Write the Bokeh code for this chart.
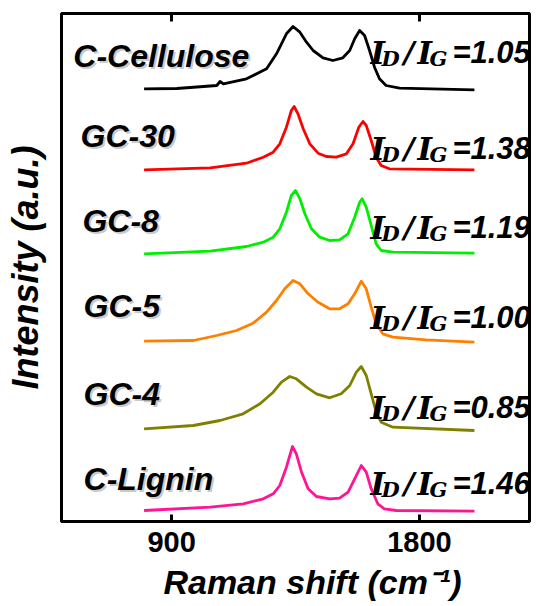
from bokeh.plotting import figure
from bokeh.models import Label, Range1d, FixedTicker, LinearAxis
from bokeh.embed import file_html
from bokeh.resources import INLINE

# ---------------- data ----------------
x_ticks = [900, 1800]

cell_x = [800, 919, 1064, 1076, 1088, 1172, 1245, 1281, 1317, 1341, 1366, 1390, 1414, 1450, 1486, 1522, 1547, 1565, 1583, 1601, 1619, 1637, 1655, 1679, 1728, 2000]
cell_y = [432.7, 433, 436, 440, 437.7, 442.7, 452.7, 467.7, 487.7, 495, 489.3, 479.3, 471, 463.7, 461, 463.7, 471, 482.7, 491, 486, 471, 454.3, 442.7, 436, 433.3, 431.7]

gc30_x = [800, 1040, 1172, 1233, 1269, 1293, 1317, 1335, 1345, 1359, 1378, 1402, 1432, 1462, 1498, 1535, 1559, 1580, 1595, 1607, 1625, 1643, 1661, 1691, 2000]
gc30_y = [351.7, 353.7, 358.3, 364.3, 369.3, 377.7, 394.3, 411, 415, 407.7, 392.7, 377.7, 368.3, 365, 364.3, 367.7, 377.7, 394.3, 400, 396, 381, 364.3, 356, 352.7, 351.7]

gc8_x = [800, 1040, 1172, 1233, 1269, 1293, 1317, 1335, 1350, 1366, 1384, 1408, 1438, 1474, 1510, 1541, 1565, 1583, 1592, 1607, 1625, 1643, 1661, 1704, 2000]
gc8_y = [267.7, 270.3, 275, 279.3, 284.3, 292.7, 309.3, 326, 331, 322.7, 307.7, 292.7, 284.3, 281, 281.7, 287.7, 304.3, 319.3, 322.7, 314.3, 296, 277.7, 271, 269.3, 268.3]

gc5_x = [800, 979, 1064, 1136, 1196, 1245, 1281, 1311, 1341, 1366, 1396, 1432, 1474, 1510, 1541, 1565, 1589, 1607, 1625, 1643, 1667, 1704, 1824, 2000]
gc5_y = [180.3, 181, 186, 191, 198.3, 209.3, 221, 232.7, 241, 237.7, 227.7, 219.3, 212.7, 212.7, 217.7, 227.7, 240.3, 232.7, 214.3, 197.7, 187.7, 184.3, 181.7, 179.3]

gc4_x = [800, 979, 1076, 1160, 1221, 1269, 1299, 1329, 1353, 1390, 1426, 1474, 1516, 1547, 1571, 1589, 1607, 1625, 1643, 1661, 1704, 2000]
gc4_y = [92.7, 96, 101, 107.7, 117.7, 129.3, 139.3, 145, 142.7, 134.3, 127.7, 123.7, 127.7, 136, 149.3, 155, 146, 127.7, 109.3, 99.3, 94.3, 91]

lig_x = [800, 1040, 1160, 1233, 1269, 1293, 1317, 1339, 1353, 1372, 1396, 1426, 1474, 1510, 1541, 1565, 1589, 1607, 1625, 1649, 1673, 1716, 2000]
lig_y = [11, 14.3, 17.7, 22.7, 27.7, 36, 54.3, 75, 67.7, 49.3, 32.7, 25, 22.7, 23.3, 29.3, 42.7, 56, 49.3, 32.7, 17.7, 12.7, 11, 10.3]

names = ["C-Cellulose", "GC-30", "GC-8", "GC-5", "GC-4", "C-Lignin"]
ratios = ["1.05", "1.38", "1.19", "1.00", "0.85", "1.46"]
colors = ["#000000", "#ff0000", "#00ee00", "#ff8000", "#808000", "#ff1493"]
series_x = [cell_x, gc30_x, gc8_x, gc5_x, gc4_x, lig_x]
series_y = [cell_y, gc30_y, gc8_y, gc5_y, gc4_y, lig_y]

# label anchors (data units)
name_x = [543, 569, 576, 580, 580, 580]
name_y = [466, 386, 301, 216, 128, 43]
ratio_x = 1622
ratio_y = [469, 373, 294, 204, 114, 38]

# ---------------- figure ----------------
p = figure(width=541, height=620, x_range=Range1d(500, 2200), y_range=Range1d(0, 508),
           output_backend="svg", toolbar_location=None,
           min_border_left=61, min_border_right=12, min_border_top=13, min_border_bottom=99)
p.grid.visible = False
p.outline_line_color = "black"
p.outline_line_width = 3
p.background_fill_color = "white"
p.border_fill_color = "white"

for xs, ys, c in zip(series_x, series_y, colors):
    p.line(xs, ys, line_color=c, line_width=2.8, line_join="round")

SANS = "Liberation Sans"
SERIF = "DejaVu Serif"

ax = p.xaxis[0]
ax.ticker = FixedTicker(ticks=x_ticks)
ax.major_tick_in = 7
ax.major_tick_out = 0
ax.major_tick_line_width = 3
ax.minor_tick_line_color = None
ax.axis_line_width = 3
ax.major_label_text_font = SANS
ax.major_label_text_font_size = "29px"
ax.major_label_text_font_style = "bold"
ax.major_label_text_color = "black"
ax.major_label_standoff = 10
ax.axis_label = "\u2002\u2002Raman shift (cm\u207b\u00b9)"
ax.axis_label_text_font = SANS
ax.axis_label_text_font_size = "34px"
ax.axis_label_text_font_style = "bold italic"
ax.axis_label_text_color = "black"
ax.axis_label_standoff = 8

top = LinearAxis(ticker=FixedTicker(ticks=x_ticks), major_tick_in=8, major_tick_out=0,
                 major_tick_line_width=3, minor_tick_line_color=None, axis_line_width=3,
                 major_label_text_font_size="0px", major_label_standoff=0)
p.add_layout(top, "above")

ay = p.yaxis[0]
ay.ticker = FixedTicker(ticks=[])
ay.major_tick_line_color = None
ay.minor_tick_line_color = None
ay.major_label_text_font_size = "0px"
ay.axis_line_width = 3
ay.axis_label = "Intensity (a.u.)"
ay.axis_label_text_font = SANS
ay.axis_label_text_font_size = "36px"
ay.axis_label_text_font_style = "bold italic"
ay.axis_label_text_color = "black"
ay.axis_label_standoff = 16

# sample names with soft shadow
for nm, nx, ny in zip(names, name_x, name_y):
    p.add_layout(Label(x=nx, y=ny, x_offset=2, y_offset=-2, text=nm, text_font=SANS,
                       text_font_size="32px", text_font_style="bold italic",
                       text_color="#888888", text_alpha=0.45, text_baseline="alphabetic"))
    p.add_layout(Label(x=nx, y=ny, text=nm, text_font=SANS, text_font_size="32px",
                       text_font_style="bold italic", text_color="black",
                       text_baseline="alphabetic"))

# I_D/I_G ratios
for r, ry in zip(ratios, ratio_y):
    parts = [
        ("I", SERIF, "31px", 0, 0),
        ("D", SERIF, "21px", 11, -6),
        ("/", SERIF, "30px", 33, 0),
        ("I", SERIF, "31px", 47, 0),
        ("G", SERIF, "21px", 59, -6),
    ]
    for t, f, fs, dx, dy in parts:
        p.add_layout(Label(x=ratio_x, y=ry, x_offset=dx, y_offset=dy, text=t, text_font=f,
                           text_font_size=fs, text_font_style="bold italic",
                           text_color="black", text_baseline="alphabetic"))
    p.add_layout(Label(x=ratio_x, y=ry, x_offset=82, text="=" + r, text_font=SANS,
                       text_font_size="31px", text_font_style="bold italic",
                       text_color="black", text_baseline="alphabetic"))

open("out.html", "w").write(file_html(p, INLINE))
